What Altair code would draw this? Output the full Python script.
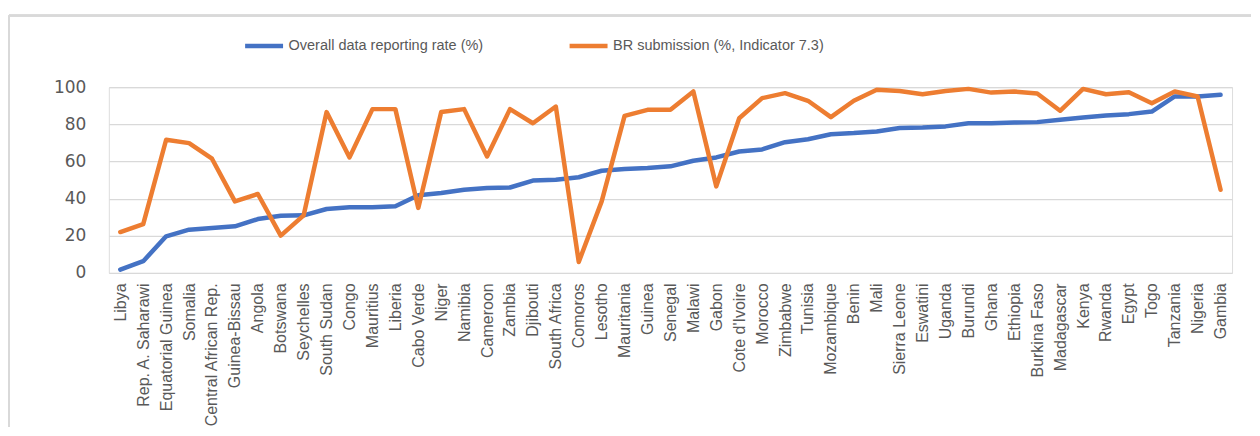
import altair as alt
import pandas as pd

countries = ["Libya", "Rep. A. Saharawi", "Equatorial Guinea", "Somalia", "Central African Rep.",
             "Guinea-Bissau", "Angola", "Botswana", "Seychelles", "South Sudan", "Congo", "Mauritius",
             "Liberia", "Cabo Verde", "Niger", "Namibia", "Cameroon", "Zambia", "Djibouti",
             "South Africa", "Comoros", "Lesotho", "Mauritania", "Guinea", "Senegal", "Malawi",
             "Gabon", "Cote d'Ivoire", "Morocco", "Zimbabwe", "Tunisia", "Mozambique", "Benin",
             "Mali", "Sierra Leone", "Eswatini", "Uganda", "Burundi", "Ghana", "Ethiopia",
             "Burkina Faso", "Madagascar", "Kenya", "Rwanda", "Egypt", "Togo", "Tanzania",
             "Nigeria", "Gambia"]

overall = [1.8, 6.3, 19.7, 23.3, 24.2, 25.1, 29.0, 30.8, 31.0, 34.4, 35.3, 35.3, 35.9, 41.8,
           43.0, 44.8, 45.7, 46.0, 49.7, 50.2, 51.5, 55.0, 55.9, 56.5, 57.4, 60.4, 62.2, 65.4,
           66.5, 70.4, 72.0, 74.7, 75.3, 76.2, 78.0, 78.3, 78.9, 80.6, 80.6, 81.0, 81.2, 82.5,
           83.7, 84.8, 85.5, 86.9, 95.0, 95.0, 95.9]

br_submission = [22.0, 26.3, 71.7, 69.9, 61.5, 38.5, 42.5, 20.1, 31.0, 86.6, 62.2, 88.2, 88.2,
                 35.0, 86.6, 88.2, 62.7, 88.2, 80.6, 89.6, 5.9, 38.5, 84.6, 87.8, 87.8, 97.7,
                 46.6, 83.3, 94.1, 96.8, 92.7, 83.9, 92.7, 98.6, 98.0, 96.2, 98.0, 99.1, 97.1,
                 97.7, 96.6, 87.3, 99.1, 96.2, 97.3, 91.4, 97.7, 95.0, 44.8]

series_names = ["Overall data reporting rate (%)", "BR submission (%, Indicator 7.3)"]
series_colors = ["#4472C4", "#ED7D31"]
y_ticks = [0, 20, 40, 60, 80, 100]

rows = []
for name, vals in zip(series_names, [overall, br_submission]):
    for c, v in zip(countries, vals):
        rows.append({"country": c, "value": v, "series": name})
df = pd.DataFrame(rows)

GRAY = "#595959"

lines = alt.Chart(df).mark_line(strokeWidth=4.5, strokeCap="round", strokeJoin="round").encode(
    x=alt.X("country:N", sort=countries, title=None,
            axis=alt.Axis(labelAngle=-90, labelFont="Liberation Sans", labelFontSize=16,
                          labelColor=GRAY, ticks=False, domain=False, labelPadding=10,
                          labelLimit=300, grid=False)),
    y=alt.Y("value:Q", title=None, scale=alt.Scale(domain=[0, 100], nice=False),
            axis=alt.Axis(values=y_ticks, labelFont="DejaVu Sans", labelFontSize=17,
                          labelColor=GRAY, ticks=False, domain=False, labelPadding=23,
                          gridColor="#D9D9D9", gridWidth=1.3)),
    color=alt.Color("series:N", sort=series_names,
                    scale=alt.Scale(domain=series_names, range=series_colors),
                    legend=alt.Legend(title=None, orient="none", direction="horizontal",
                                      legendX=134, legendY=-63, symbolType="stroke",
                                      symbolSize=1444, symbolStrokeWidth=4.5,
                                      labelFont="Liberation Sans", labelFontSize=14.5,
                                      labelColor=GRAY, labelOffset=3, columnPadding=76,
                                      labelLimit=400)),
    order=alt.value(0),
)

frame_top = alt.Chart(df).mark_rule(color="#D9D9D9", strokeWidth=2).encode(
    x=alt.value(-100), x2=alt.value(1144), y=alt.value(-71.7))
frame_left = alt.Chart(df).mark_rule(color="#D9D9D9", strokeWidth=2).encode(
    x=alt.value(-100), y=alt.value(-71.7), y2=alt.value(340))

chart = alt.layer(frame_top, frame_left, lines).properties(
    width=1125, height=186,
    padding={"left": 0, "top": 6, "right": 0, "bottom": 0},
).configure_view(stroke=None).configure(background="white")

chart.save("out.html", embed_options={"renderer": "svg", "actions": False})
